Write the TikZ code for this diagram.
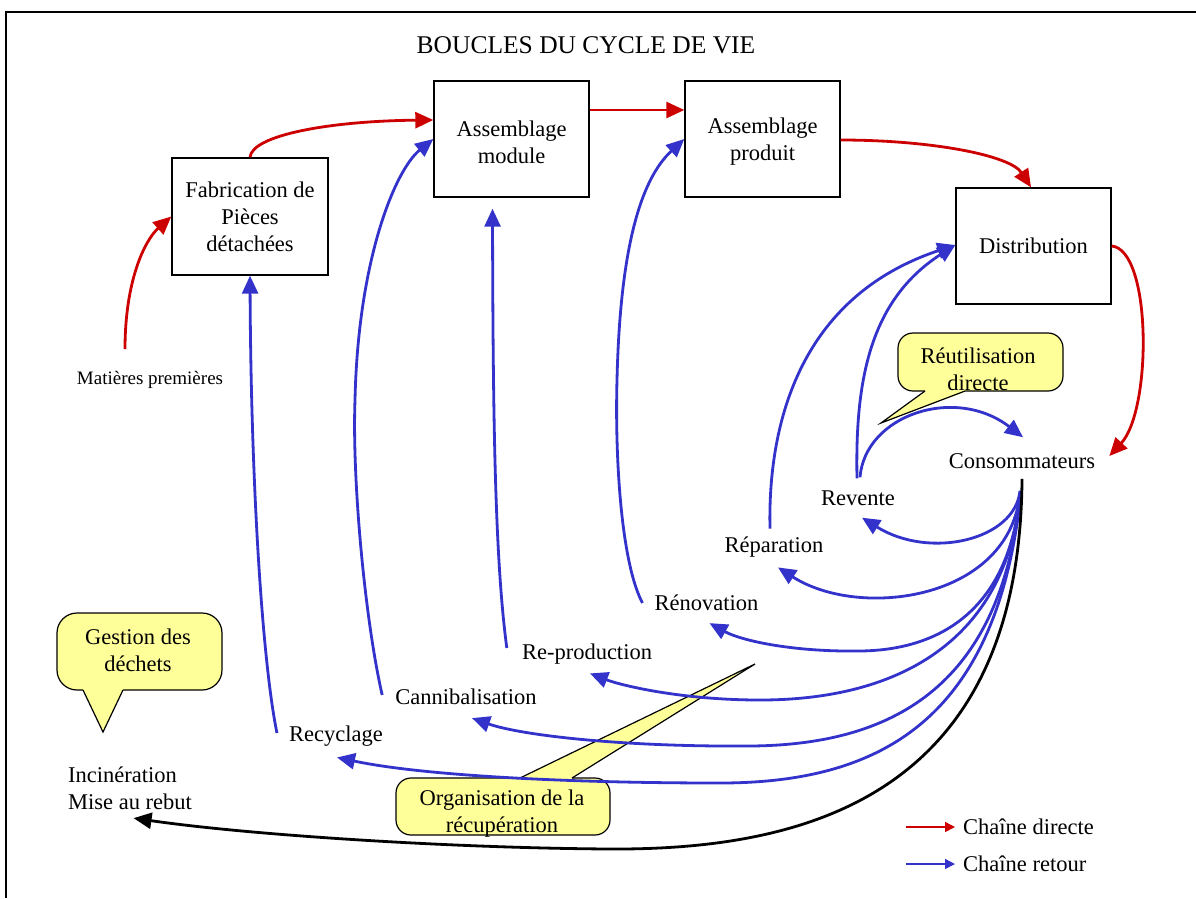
\documentclass[tikz,border=0pt]{standalone}
\usepackage{fontspec}
\setmainfont{Liberation Serif}
\usetikzlibrary{arrows.meta}
\definecolor{dred}{RGB}{204,0,0}
\definecolor{dblue}{RGB}{51,51,204}
\definecolor{callout}{RGB}{255,255,153}
\begin{document}
\begin{tikzpicture}[x=1pt,y=-1pt,
  font=\fontsize{22.5}{27}\selectfont,
  box/.style={draw, line width=1.4pt, minimum width=155pt, minimum height=116pt, inner sep=0pt, align=center},
  lbl/.style={inner sep=0pt, align=center},
  tip/.style={-{Triangle[length=18pt,width=16pt]}},
  redarr/.style={draw=dred, line width=2.8pt, tip, dred},
  bluearr/.style={draw=dblue, line width=2.8pt, tip, dblue},
  blackarr/.style={draw=black, line width=2.8pt, tip},
  bubble/.style={draw, fill=callout, line width=1.2pt, inner sep=0pt},
  tailfill/.style={fill=callout},
  tailline/.style={line width=1.2pt},
  legarr/.style={line width=1.5pt, -{Triangle[length=10pt,width=10pt]}}
]
\useasboundingbox (0,0) rectangle (1196,898);
\fill[white] (0,0) rectangle (1196,898);
% frame
\draw[line width=1.5pt] (6,898) -- (6,12) -- (1196,12);

% title
\node[lbl, font=\fontsize{25.5}{30}\selectfont] (title) at (586,45) {BOUCLES DU CYCLE DE VIE};

% callouts
\node[bubble, rounded corners=15pt, minimum width=165pt, minimum height=58pt] (reutb) at (980.5,362) {};
\fill[tailfill] (925,392) -- (881,423) -- (965,392) -- (965,388) -- (925,388) -- cycle;
\draw[tailline] (925,391) -- (881,423) -- (965,391);
\node[lbl] (reut) at (978,369) {Réutilisation\\directe};

\node[bubble, rounded corners=20pt, minimum width=165pt, minimum height=77pt] (gestb) at (139.5,651.5) {};
\fill[tailfill] (83,687) -- (83,690) -- (103,732) -- (123,690) -- (123,687) -- cycle;
\draw[tailline] (83,690) -- (103,732) -- (123,690);
\node[lbl] (gest) at (138,650) {Gestion des\\déchets};

\node[bubble, rounded corners=15pt, minimum width=214pt, minimum height=57pt] (orgb) at (503,806.5) {};
\fill[tailfill] (520,782) -- (520,778) -- (755,664) -- (572,778) -- (572,782) -- cycle;
\draw[tailline] (520,778) -- (755,664) -- (572,778);
\node[lbl] (org) at (502,814) {Organisation de la\\récupération};

% boxes
\node[box, minimum width=156pt, minimum height=117pt] (fab) at (250,216.5) {Fabrication de\\Pièces\\détachées};
\node[box] (am) at (511.5,139) {};
\node[lbl] (amt) at (511.5,142) {Assemblage\\module};
\node[box] (ap) at (762.5,139) {};
\node[lbl] (apt) at (762.5,142) {Assemblage\\produit};
\node[box] (dist) at (1033.5,246) {Distribution};

% labels
\node[lbl, font=\fontsize{19}{23}\selectfont] (mat) at (150,380) {Matières premières};
\node[lbl] (cons) at (1022,461) {Consommateurs};
\node[lbl] (rev) at (858,498) {Revente};
\node[lbl] (repa) at (774,547) {Réparation};
\node[lbl] (reno) at (706.5,603) {Rénovation};
\node[lbl] (repro) at (587,654) {Re-production};
\node[lbl] (cann) at (466,697) {Cannibalisation};
\node[lbl] (recy) at (336,736) {Recyclage};
\node[lbl, align=left, anchor=west] (inc) at (68,788.5) {Incinération\\Mise au rebut};

% direct chain (red)
\draw[redarr] ([xshift=-25pt,yshift=22pt]mat.north) .. controls (125,280) and (145,240) .. (fab.west);
\draw[redarr] (fab.north) .. controls (252,135) and (330,121) .. ([yshift=19pt]am.west);
\draw[redarr] ([yshift=29pt]am.east) -- ([yshift=29pt]ap.west);
\draw[redarr] ([yshift=-1pt]ap.east) .. controls (930,140) and (1010,155) .. ([xshift=-2.5pt]dist.north);
\draw[redarr] (dist.east) .. controls (1152,250) and (1152,410) .. ([xshift=14pt,yshift=5pt]cons.east);

% return chain (blue) upward
\draw[bluearr] ([xshift=-12pt,yshift=3pt]recy.west) .. controls (262,660) and (251,480) .. (fab.south);
\draw[bluearr] ([xshift=-13pt,yshift=2pt]cann.west) .. controls (365,620) and (352,480) .. (355,400) .. controls (358,260) and (395,170) .. (am.west);
\draw[bluearr] ([xshift=-15pt,yshift=6pt]repro.west) .. controls (495,560) and (493,420) .. ([xshift=-19pt,yshift=-11pt]am.south);
\draw[bluearr] ([xshift=-12pt]reno.west) .. controls (620,560) and (615,450) .. (617,380) .. controls (620,250) and (640,180) .. (ap.west);
\draw[bluearr] ([xshift=-4pt,yshift=8pt]repa.north) .. controls (768,440) and (790,300) .. ([yshift=1pt]dist.west);
\draw[bluearr] ([xshift=-1pt,yshift=12pt]rev.north) .. controls (855,380) and (870,300) .. ([yshift=1pt]dist.west);
\draw[bluearr] ([xshift=2pt,yshift=13pt]rev.north) .. controls (865,415) and (955,385) .. ([xshift=1pt,yshift=16pt]cons.north);

% return chain (blue) from consumers
\draw[bluearr] ([xshift=-2pt,yshift=-22pt]cons.south) .. controls (1015,540) and (930,560) .. ([xshift=4pt,yshift=-12pt]rev.south);
\draw[bluearr] ([xshift=-2pt,yshift=-24pt]cons.south) .. controls (1010,600) and (860,620) .. ([xshift=4pt,yshift=-10pt]repa.south);
\draw[bluearr] ([xshift=-2pt,yshift=-26pt]cons.south) .. controls (1010,600) and (950,650) .. (860,651) .. controls (790,652) and (740,640) .. ([xshift=3pt,yshift=-12pt]reno.south);
\draw[bluearr] ([xshift=-2pt,yshift=-28pt]cons.south) .. controls (1005,640) and (900,700) .. (760,700) .. controls (680,700) and (620,685) .. ([xshift=3pt,yshift=-9pt]repro.south);
\draw[bluearr] ([xshift=-2pt,yshift=-30pt]cons.south) .. controls (1000,680) and (900,745) .. (750,746) .. controls (620,747) and (520,735) .. ([xshift=6pt,yshift=-13pt]cann.south);
\draw[bluearr] ([xshift=-2pt,yshift=-32pt]cons.south) .. controls (995,720) and (880,783) .. (720,783) .. controls (560,783) and (420,775) .. ([xshift=1pt,yshift=-11pt]recy.south);

% waste (black)
\draw[blackarr] ([yshift=-10pt]cons.south) .. controls (1020,800) and (800,850) .. (610,849) .. controls (450,848) and (250,835) .. ([xshift=3.5pt,yshift=-8pt]inc.south);

% legend
\node[lbl, anchor=west] (leg1) at (963,827) {Chaîne directe};
\node[lbl, anchor=west] (leg2) at (963,864) {Chaîne retour};
\draw[legarr, dred] ([xshift=-57pt]leg1.west) -- ([xshift=-8pt]leg1.west);
\draw[legarr, dblue] ([xshift=-57pt]leg2.west) -- ([xshift=-8pt]leg2.west);
\end{tikzpicture}
\end{document}
